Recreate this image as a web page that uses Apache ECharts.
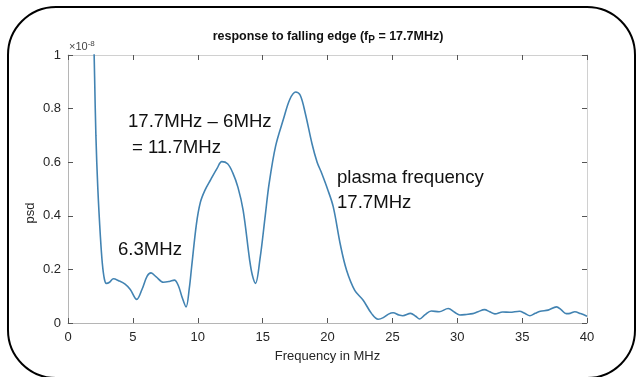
<!DOCTYPE html>
<html><head><meta charset="utf-8">
<script src="https://cdn.jsdelivr.net/npm/echarts@6/dist/echarts.min.js"></script>
<style>html,body{margin:0;padding:0;background:#fff}#c{width:637px;height:377px}</style>
</head><body><div id="c"></div>
<script>
const freq = [1.95,2.05,2.15,2.3,2.5,2.65,2.8,2.95,3.2,3.5,3.9,4.4,4.8,5.3,5.7,6.1,6.4,6.8,7.35,7.8,8.2,8.5,8.8,9.1,9.35,9.53,9.9,10.2,10.55,11.0,11.5,11.85,12.3,12.7,13.1,13.5,14.0,14.2,14.45,14.8,15.2,15.5,16.0,16.6,17.1,17.55,17.9,18.3,18.8,19.2,19.5,20.0,20.44,21.0,21.47,22.1,22.75,23.4,23.9,24.3,24.7,25.06,25.5,25.8,26.4,26.8,27.1,27.5,28.0,28.6,29.3,29.8,30.2,30.7,31.2,31.6,32.1,32.5,32.9,33.5,34.05,34.8,35.2,35.6,36.0,36.4,37.0,37.65,38.0,38.4,38.7,39.06,39.5,40.0];
const psd = [1.15,0.92,0.70,0.50,0.32,0.22,0.165,0.148,0.152,0.165,0.158,0.145,0.125,0.088,0.125,0.175,0.187,0.172,0.152,0.155,0.16,0.14,0.095,0.06,0.13,0.21,0.37,0.45,0.495,0.535,0.578,0.602,0.594,0.56,0.506,0.42,0.235,0.18,0.148,0.24,0.40,0.52,0.66,0.76,0.835,0.862,0.85,0.78,0.67,0.60,0.565,0.50,0.434,0.29,0.197,0.122,0.085,0.035,0.014,0.02,0.033,0.038,0.03,0.027,0.036,0.025,0.015,0.03,0.045,0.042,0.054,0.04,0.03,0.032,0.035,0.042,0.05,0.042,0.034,0.041,0.04,0.044,0.036,0.027,0.036,0.044,0.048,0.06,0.05,0.035,0.036,0.042,0.035,0.025];
const xTicks = {min:0, max:40, interval:5};
const yTicks = {min:0, max:1, interval:0.2};

const FONT = "'Liberation Sans', Arial, sans-serif";
const chart = echarts.init(document.getElementById('c'), null, {renderer:'canvas'});
const tick = () => ({show:true, inside:true, length:5, lineStyle:{color:'#555', width:1}});
const line = (c) => ({show:true, onZero:false, lineStyle:{color:c, width:1}});
chart.setOption({
  animation:false,
  backgroundColor:'#fff',
  grid:{left:68, right:50, top:55, bottom:54, containLabel:false},
  xAxis:[
    {type:'value', min:xTicks.min, max:xTicks.max, interval:xTicks.interval, position:'bottom',
     axisLine:line('#b5b5b5'), axisTick:tick(), splitLine:{show:false},
     axisLabel:{color:'#262626', fontFamily:FONT, fontSize:13, margin:8},
     name:'Frequency in MHz', nameLocation:'middle', nameGap:27,
     nameTextStyle:{color:'#262626', fontFamily:FONT, fontSize:13}},
    {type:'value', min:xTicks.min, max:xTicks.max, interval:xTicks.interval, position:'top',
     axisLine:line('#d0d0d0'), axisTick:tick(), axisLabel:{show:false}, splitLine:{show:false}}
  ],
  yAxis:[
    {type:'value', min:yTicks.min, max:yTicks.max, interval:yTicks.interval, position:'left',
     axisLine:line('#b5b5b5'), axisTick:tick(), splitLine:{show:false},
     axisLabel:{color:'#262626', fontFamily:FONT, fontSize:13, margin:7}},
    {type:'value', min:yTicks.min, max:yTicks.max, interval:yTicks.interval, position:'right',
     axisLine:line('#d0d0d0'), axisTick:tick(), axisLabel:{show:false}, splitLine:{show:false}}
  ],
  series:[{
    type:'line', xAxisIndex:0, yAxisIndex:0,
    data: freq.map((f,i)=>[f, psd[i]]),
    showSymbol:false, symbol:'none', smooth:0.35, clip:true,
    lineStyle:{color:'#4283b2', width:1.6}
  }],
  graphic:[
    {type:'rect', shape:{x:8, y:7, width:627, height:371, r:48}, style:{fill:'none', stroke:'#000', lineWidth:2}, silent:true},
    {type:'text', x:328, y:37, style:{
      text:'{a|response to falling edge (f}{s|P}{a| = 17.7MHz)}', textAlign:'center', textVerticalAlign:'middle',
      rich:{a:{fontFamily:FONT, fontSize:12.5, fontWeight:'bold', fill:'#111'},
            s:{fontFamily:FONT, fontSize:10, fontWeight:'bold', fill:'#111', padding:[7,0,0,0]}}}},
    {type:'text', x:30, y:213, rotation:Math.PI/2, style:{text:'psd', font:'13px '+FONT, fill:'#262626', textAlign:'center', textVerticalAlign:'middle'}},
    {type:'text', x:69, y:47, style:{
      text:'{a|×10}{b|-8}', textVerticalAlign:'middle',
      rich:{a:{fontFamily:FONT, fontSize:11, fill:'#444'}, b:{fontFamily:FONT, fontSize:8, fill:'#444', padding:[0,0,7,0]}}}},
    {type:'text', x:128, y:122, style:{text:'17.7MHz – 6MHz', font:'18.6px '+FONT, fill:'#111', textVerticalAlign:'middle'}},
    {type:'text', x:132, y:148, style:{text:'= 11.7MHz', font:'18.6px '+FONT, fill:'#111', textVerticalAlign:'middle'}},
    {type:'text', x:118, y:250, style:{text:'6.3MHz', font:'18.6px '+FONT, fill:'#111', textVerticalAlign:'middle'}},
    {type:'text', x:337, y:178, style:{text:'plasma frequency', font:'18.6px '+FONT, fill:'#111', textVerticalAlign:'middle'}},
    {type:'text', x:337, y:203, style:{text:'17.7MHz', font:'18.6px '+FONT, fill:'#111', textVerticalAlign:'middle'}}
  ]
});
</script></body></html>
